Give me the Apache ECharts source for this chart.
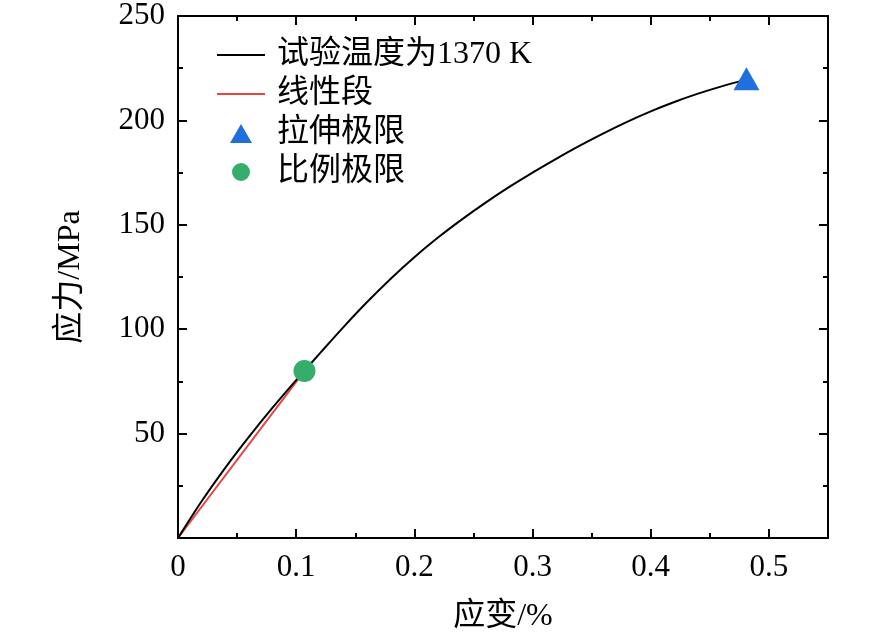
<!DOCTYPE html>
<html>
<head>
<meta charset="utf-8">
<script src="https://cdn.jsdelivr.net/npm/echarts@6/dist/echarts.min.js"></script>
<style>
html, body { margin: 0; padding: 0; background: #fff; }
#main { width: 886px; height: 639px; }
</style>
</head>
<body>
<div id="main"></div>
<script>
// 应力-应变曲线数据
var strain = [0, 0.02, 0.04, 0.06, 0.08, 0.1, 0.12, 0.14, 0.16, 0.18, 0.2,
  0.22, 0.24, 0.26, 0.28, 0.3, 0.32, 0.34, 0.36, 0.38, 0.4, 0.42, 0.44, 0.46, 0.48];
var stress = [0, 17.6, 33.6, 48.4, 62.4, 75.6, 88.4, 101.0, 113.0, 124.2, 134.5,
  143.9, 152.5, 160.5, 168.0, 175.0, 181.6, 187.9, 193.8, 199.3, 204.3, 208.8, 212.8, 216.3, 219.4];
var linearStrain = [0, 0.107];
var linearStress = [0, 80];
var tensileLimit = [0.481, 220];
var proportionalLimit = [0.107, 80];

var seriesNames = ['试验温度为1370 K', '线性段', '拉伸极限', '比例极限'];

var curveData = strain.map(function (x, i) { return [x, stress[i]]; });
var linearData = linearStrain.map(function (x, i) { return [x, linearStress[i]]; });

var dom = document.getElementById('main');
var myChart = echarts.init(dom, null, { renderer: 'canvas' });

var serif = '"Liberation Serif", "Times New Roman", "Noto Sans CJK SC", serif';
var axisLine = { show: true, onZero: false, lineStyle: { color: '#000', width: 2 } };
var axisTick = { inside: true, length: 9, lineStyle: { color: '#000', width: 2 } };
var minorTick = { show: true, splitNumber: 2, length: 5, lineStyle: { color: '#000', width: 2 } };

// 图例图标: 四角的极小点撑开包围盒, 使图标不被拉伸
var box = 'M0,0L0.01,0L0,0.01Z M55,20L54.99,20L55,19.99Z ';
var lineIcon = 'path://' + box + 'M0,9L48,9L48,11L0,11Z';
var triIcon = 'path://' + box + 'M13,20L24,1L35,20Z';
var dotIcon = 'path://' + box + 'M15,10A9,9 0 1,1 33,10A9,9 0 1,1 15,10Z';

var option = {
  animation: false,
  grid: { left: 178, top: 16, right: 58, bottom: 101 },
  legend: {
    orient: 'vertical',
    left: 217,
    top: 39,
    padding: 0,
    itemWidth: 55,
    itemHeight: 20,
    itemGap: 7,
    textStyle: { fontFamily: serif, fontSize: 32, color: '#000' },
    data: [
      { name: seriesNames[0], icon: lineIcon },
      { name: seriesNames[1], icon: lineIcon },
      { name: seriesNames[2], icon: triIcon },
      { name: seriesNames[3], icon: dotIcon }
    ]
  },
  xAxis: [
    {
      type: 'value',
      min: 0,
      max: 0.55,
      interval: 0.1,
      name: '应变/%',
      nameLocation: 'middle',
      nameGap: 63,
      nameTextStyle: { fontFamily: serif, fontSize: 32, color: '#000' },
      axisLine: axisLine,
      axisTick: axisTick,
      minorTick: minorTick,
      splitLine: { show: false },
      axisLabel: {
        fontFamily: serif, fontSize: 31, color: '#000', margin: 14,
        formatter: function (v) { return Math.abs(v * 10 - Math.round(v * 10)) < 1e-6 ? String(Math.round(v * 10) / 10) : ''; }
      }
    },
    {
      type: 'value',
      position: 'top',
      min: 0,
      max: 0.55,
      interval: 0.1,
      axisLine: axisLine,
      axisTick: axisTick,
      minorTick: minorTick,
      splitLine: { show: false },
      axisLabel: { show: false }
    }
  ],
  yAxis: [
    {
      type: 'value',
      min: 0,
      max: 250,
      interval: 50,
      name: '应力/MPa',
      nameLocation: 'middle',
      nameGap: 91,
      nameTextStyle: { fontFamily: serif, fontSize: 32, color: '#000' },
      axisLine: axisLine,
      axisTick: axisTick,
      minorTick: minorTick,
      splitLine: { show: false },
      axisLabel: {
        fontFamily: serif, fontSize: 31, color: '#000', margin: 13,
        formatter: function (v) { return v === 0 ? '' : String(v); }
      }
    },
    {
      type: 'value',
      position: 'right',
      min: 0,
      max: 250,
      interval: 50,
      axisLine: axisLine,
      axisTick: axisTick,
      minorTick: minorTick,
      splitLine: { show: false },
      axisLabel: { show: false }
    }
  ],
  series: [
    {
      name: seriesNames[0],
      type: 'line',
      data: curveData,
      smooth: 0.3,
      symbol: 'none',
      lineStyle: { color: '#000', width: 2 },
      itemStyle: { color: '#000' },
      z: 3
    },
    {
      name: seriesNames[1],
      type: 'line',
      data: linearData,
      symbol: 'none',
      lineStyle: { color: '#e5443f', width: 2 },
      itemStyle: { color: '#e5443f' },
      z: 2
    },
    {
      name: seriesNames[2],
      type: 'scatter',
      data: [tensileLimit],
      symbol: 'triangle',
      symbolSize: [26, 23],
      itemStyle: { color: '#1f6fdc', opacity: 1 },
      z: 4
    },
    {
      name: seriesNames[3],
      type: 'scatter',
      data: [proportionalLimit],
      symbol: 'circle',
      symbolSize: 22,
      itemStyle: { color: '#35ad6b', opacity: 1 },
      z: 4
    }
  ]
};

if (option && typeof option === 'object') {
  myChart.setOption(option);
}

window.addEventListener('resize', myChart.resize);
</script>
</body>
</html>
